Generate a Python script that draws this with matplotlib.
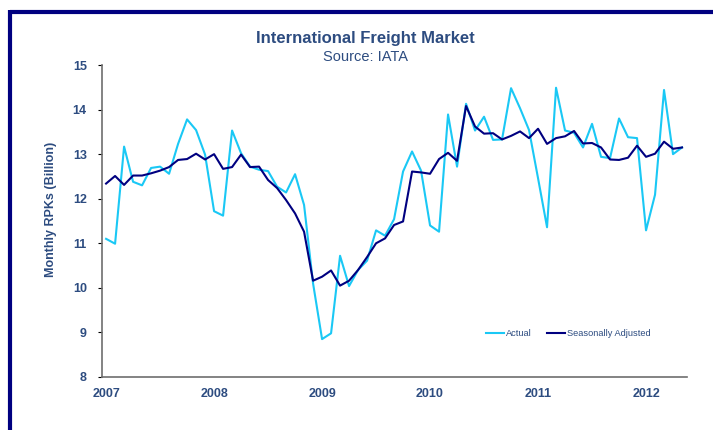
import numpy as np
import matplotlib
matplotlib.use("Agg")
import matplotlib.pyplot as plt
from matplotlib.lines import Line2D

# Monthly RPKs (billion), Jan 2007 - May 2012
actual = [11.10, 10.99, 13.17, 12.38, 12.30, 12.69, 12.72, 12.56, 13.23, 13.78,
          13.54, 12.99, 11.72, 11.62, 13.53, 13.02, 12.72, 12.65, 12.62, 12.27,
          12.14, 12.55, 11.86, 10.10, 8.85, 8.98, 10.72, 10.04, 10.40, 10.61,
          11.29, 11.17, 11.54, 12.61, 13.06, 12.63, 11.40, 11.26, 13.89, 12.72,
          14.13, 13.53, 13.84, 13.32, 13.33, 14.48, 14.03, 13.54, 12.46, 11.36,
          14.49, 13.53, 13.48, 13.15, 13.68, 12.94, 12.91, 13.80, 13.38, 13.36,
          11.29, 12.09, 14.44, 13.00, 13.15]
seas_adj = [12.34, 12.51, 12.31, 12.52, 12.52, 12.57, 12.63, 12.71, 12.87, 12.89,
            13.01, 12.88, 13.00, 12.67, 12.71, 12.99, 12.71, 12.72, 12.42, 12.24,
            11.97, 11.67, 11.26, 10.16, 10.25, 10.39, 10.05, 10.16, 10.40, 10.69,
            11.00, 11.11, 11.41, 11.49, 12.61, 12.59, 12.56, 12.89, 13.03, 12.85,
            14.08, 13.62, 13.46, 13.47, 13.33, 13.41, 13.51, 13.36, 13.57, 13.23,
            13.36, 13.40, 13.52, 13.24, 13.25, 13.15, 12.88, 12.87, 12.92, 13.19,
            12.94, 13.01, 13.28, 13.12, 13.15]
years = [2007, 2008, 2009, 2010, 2011, 2012]

text_col = "#2D4C80"
plt.rcParams["font.family"] = ["Liberation Sans", "DejaVu Sans"]

fig = plt.figure(figsize=(7.13, 4.30), dpi=100)
ax = fig.add_axes([0.1431, 0.1233, 0.8204, 0.7255])

months = np.arange(len(actual))
ax.plot(months, actual, color="#1AC8F5", lw=1.5, label="Actual")
ax.plot(months, seas_adj, color="#000080", lw=1.5, label="Seasonally Adjusted")

ax.set_xlim(-0.45, 64.55)
ax.set_ylim(8, 15)
ax.set_xticks([(y - 2007) * 12 for y in years])
ax.set_xticklabels([str(y) for y in years])
ax.set_yticks(range(8, 16))

for s in ["top", "right"]:
    ax.spines[s].set_visible(False)
for s in ["left", "bottom"]:
    ax.spines[s].set_color("#6E6E6E")
    ax.spines[s].set_linewidth(1.2)

ax.tick_params(axis="x", length=0, pad=8, labelsize=9, labelcolor=text_col)
ax.tick_params(axis="y", length=3, width=0.8, color="black", pad=8,
               labelsize=9, labelcolor=text_col)
for lab in ax.get_xticklabels() + ax.get_yticklabels():
    lab.set_fontweight("bold")

fig.text(51 / 713, 0.514, "Monthly RPKs (Billion)", rotation=90, ha="center",
         va="center", fontsize=9, fontweight="bold", color=text_col)

# titles
fig.text(365.5 / 713, 0.899, "International Freight Market", ha="center",
         va="baseline", fontsize=12, fontweight="bold", color=text_col)
fig.text(365.5 / 713, 0.858, "Source: IATA", ha="center", va="baseline",
         fontsize=10.5, color=text_col)

leg = fig.legend(loc="center left", bbox_to_anchor=(486 / 713, 1 - 334 / 430),
                 ncol=2, frameon=False, fontsize=6.7, handlelength=1.95,
                 handletextpad=0.2, columnspacing=1.6, borderpad=0,
                 borderaxespad=0)
for t in leg.get_texts():
    t.set_color(text_col)

# navy frame lines at the top and left
fig.add_artist(Line2D([9.5 / 713, 1], [1 - 12 / 430, 1 - 12 / 430],
                      color="#000080", lw=3, solid_capstyle="butt"))
fig.add_artist(Line2D([9.5 / 713, 9.5 / 713], [0, 1 - 10 / 430],
                      color="#000080", lw=3, solid_capstyle="butt"))

fig.savefig("out.png", dpi=100)
